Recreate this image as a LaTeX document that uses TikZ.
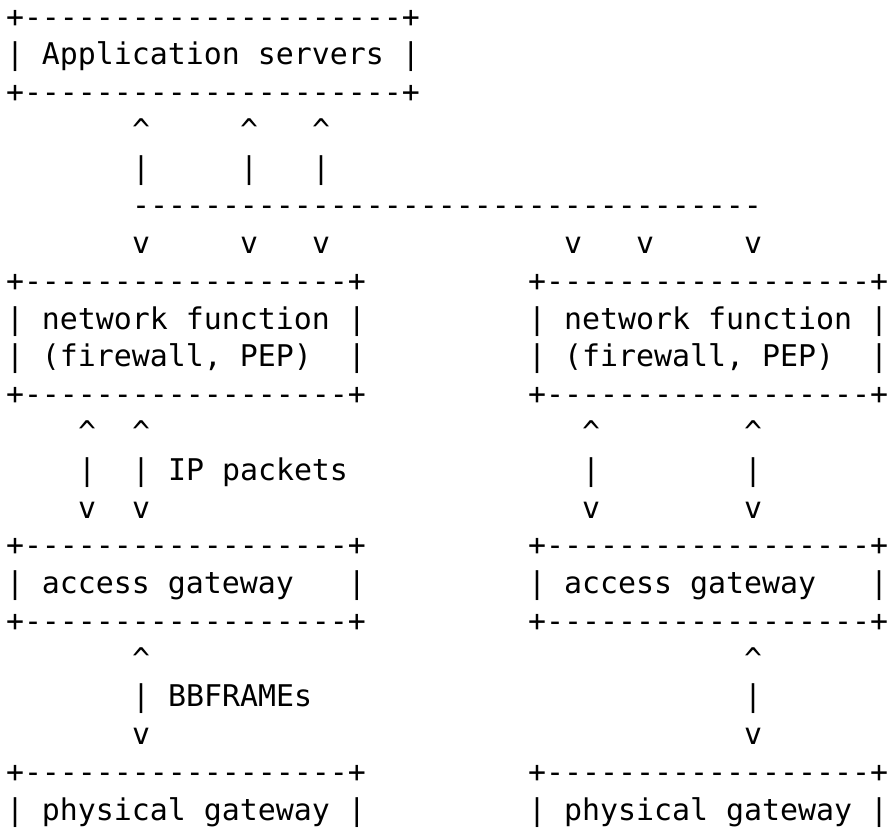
\documentclass[tikz,border=0pt]{standalone}
\usepackage{fontspec}
\setmonofont{DejaVu Sans Mono}

\tikzset{ascii/.style={font=\ttfamily\fontsize{29.9}{37.77}\selectfont,
    inner sep=0pt, outer sep=0pt, anchor=base west}}

\begin{document}
\begin{tikzpicture}[x=18pt, y=-37.77pt]
                \useasboundingbox (-6pt,27pt) rectangle (881pt,-804pt);

                % application servers
                \node[ascii] (app-top) at (0,0) {+---------------------+};
                \node[ascii] (app)     at (0,1) {| Application servers |};
                \node[ascii] (app-bot) at (0,2) {+---------------------+};

                \foreach \c in {7,13,17} {
                    \node[ascii] (app-up-\c)  at (\c,3) {\textasciicircum};
                    \node[ascii] (app-bar-\c) at (\c,4) {|};
                }
                \node[ascii] (bus) at (7,5) {-----------------------------------};
                \foreach \c in {7,13,17,31,35,41}
                    \node[ascii] (bus-down-\c) at (\c,6) {v};

                % network functions
                \foreach \c/\n in {0/l,29/r} {
                    \node[ascii] (nf-top-\n) at (\c,7)  {+------------------+};
                    \node[ascii] (nf-\n)     at (\c,8)  {| network function |};
                    \node[ascii] (nf-sub-\n) at (\c,9)  {| (firewall, PEP)~~|};
                    \node[ascii] (nf-bot-\n) at (\c,10) {+------------------+};
                }
                \foreach \c in {4,7,32,41} {
                    \node[ascii] (ip-up-\c)   at (\c,11) {\textasciicircum};
                    \node[ascii] (ip-bar-\c)  at (\c,12) {|};
                    \node[ascii] (ip-down-\c) at (\c,13) {v};
                }
                \node[ascii] (ip-label) at (9,12) {IP packets};

                % access gateways
                \foreach \c/\n in {0/l,29/r} {
                    \node[ascii] (ag-top-\n) at (\c,14) {+------------------+};
                    \node[ascii] (ag-\n)     at (\c,15) {| access gateway~~~|};
                    \node[ascii] (ag-bot-\n) at (\c,16) {+------------------+};
                }
                \foreach \c in {7,41} {
                    \node[ascii] (bb-up-\c)   at (\c,17) {\textasciicircum};
                    \node[ascii] (bb-bar-\c)  at (\c,18) {|};
                    \node[ascii] (bb-down-\c) at (\c,19) {v};
                }
                \node[ascii] (bb-label) at (9,18) {BBFRAMEs};

                % physical gateways
                \foreach \c/\n in {0/l,29/r} {
                    \node[ascii] (pg-top-\n) at (\c,20) {+------------------+};
                    \node[ascii] (pg-\n)     at (\c,21) {| physical gateway |};
                }
            \end{tikzpicture}
\end{document}
